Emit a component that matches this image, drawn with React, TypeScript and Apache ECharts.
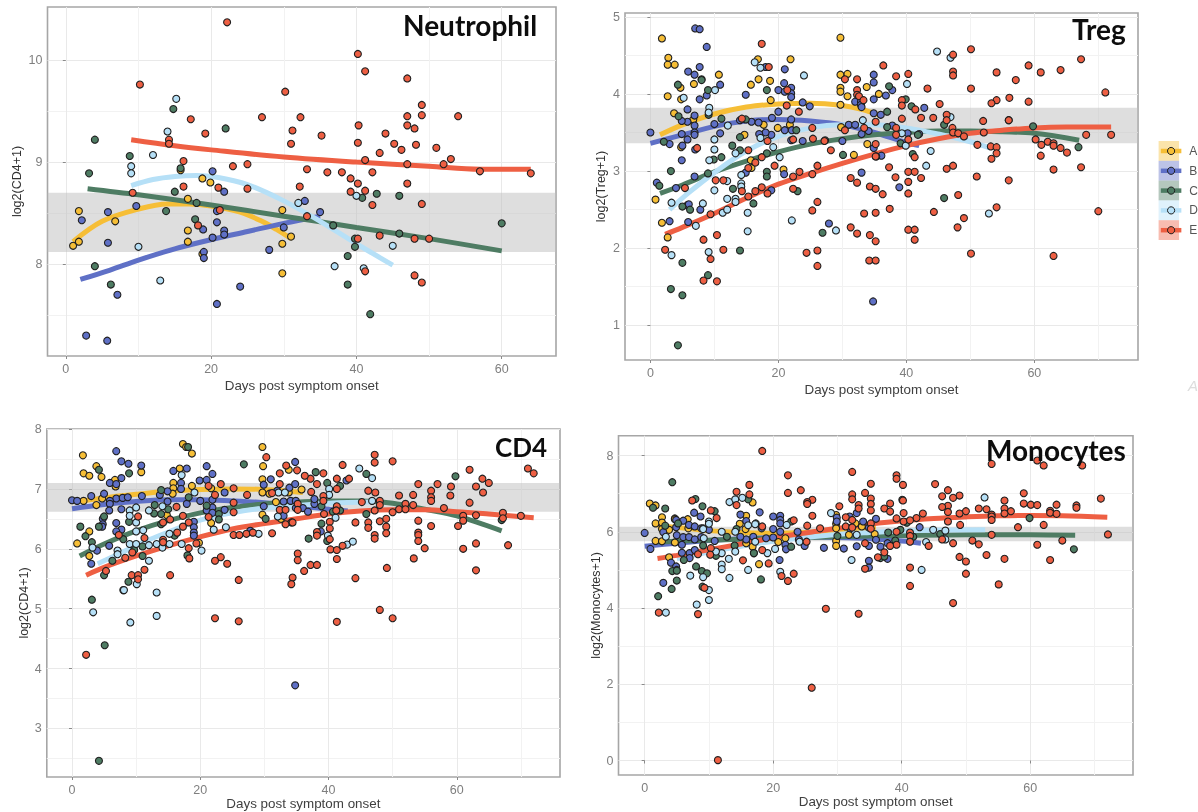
import React, { useEffect, useRef } from "react";
import * as echarts from "echarts";

type P = [number, number];

const groups = ["A", "B", "C", "D", "E"];
const colors = ["#F6BE36", "#5F70C6", "#4E7C63", "#B6E0F7", "#EE5F43"];
const xTicks = [0, 20, 40, 60];
const xMinor = [10, 30, 50, 70];

// ---- Neutrophil
const neutA: P[] = [[1.8,8.52],[1,8.18],[1.8,8.22],[6.8,8.42],[16.8,8.64],[18.8,8.84],[19.9,8.8],[15.8,8.92],[16.8,8.33],[16.8,8.22],[18.8,8.1],[29.8,8.53],[29.8,8.2],[31,8.27],[29.8,7.91]];
const neutB: P[] = [[20.2,8.91],[21.8,8.71],[9.7,8.57],[5.8,8.51],[2.2,8.43],[5.8,8.21],[20.8,8.52],[20.8,8.41],[21.8,8.33],[21.8,8.29],[18.9,8.34],[20.2,8.26],[19,8.12],[19,8.06],[28,8.14],[30,8.36],[32.9,8.62],[35,8.51],[2.8,7.3],[5.7,7.25],[7.1,7.7],[24,7.78],[20.8,7.61]];
const neutC: P[] = [[4,9.22],[3.2,8.89],[8.8,9.06],[14.8,9.52],[22,9.33],[15,8.71],[18,8.6],[13.8,8.52],[17.8,8.44],[4,7.98],[6.2,7.8],[36.8,8.38],[39.8,8.25],[39.8,8.17],[38.8,8.08],[38.8,7.8],[41.9,7.51],[40.8,8.65],[42.8,8.69],[45.9,8.67],[45.9,8.3],[60,8.4],[15.8,8.94]];
const neutD: P[] = [[15.2,9.62],[14,9.3],[12,9.07],[9,8.96],[9,8.89],[32,8.6],[40,8.67],[10,8.17],[13,7.84],[37,7.98],[41,7.96],[45,8.18]];
const neutE: P[] = [[22.2,10.37],[40.2,10.06],[41.2,9.89],[47,9.82],[10.2,9.76],[30.2,9.69],[49,9.56],[32.3,9.44],[27,9.44],[17.2,9.42],[47,9.45],[49,9.46],[54,9.45],[47,9.36],[40.3,9.36],[48,9.33],[31.2,9.31],[19.2,9.28],[44,9.28],[35.2,9.26],[14.2,9.22],[14.2,9.18],[31,9.18],[40.2,9.19],[45.2,9.18],[48.2,9.17],[46.2,9.12],[51,9.14],[43.2,9.09],[16.2,9.01],[41.2,9.02],[53,9.03],[23,8.96],[25,8.98],[47,8.98],[52,8.98],[33.2,8.93],[36,8.9],[38,8.9],[42.2,8.9],[57,8.91],[64,8.89],[39.2,8.84],[40.2,8.79],[47,8.79],[16.2,8.76],[21,8.75],[25,8.74],[32.2,8.76],[41.2,8.72],[39.2,8.71],[9.2,8.7],[42.2,8.58],[49,8.59],[21.2,8.53],[33.2,8.47],[18.2,8.38],[40.2,8.25],[43.2,8.28],[48,8.25],[50,8.25],[41.2,7.93],[48,7.89],[49,7.82]];
const neutFitA: P[] = [[1,8.22],[5,8.42],[10,8.54],[14,8.59],[17,8.59],[20,8.57],[24,8.51],[27,8.42],[29,8.34],[31,8.25]];
const neutFitB: P[] = [[2,7.85],[6,7.94],[10,8.04],[15,8.15],[20,8.24],[25,8.32],[30,8.4],[35,8.47]];
const neutFitC: P[] = [[3,8.74],[10,8.68],[20,8.58],[30,8.47],[40,8.36],[50,8.25],[60,8.13]];
const neutFitD: P[] = [[9,8.77],[12,8.83],[15,8.86],[18,8.87],[21,8.85],[25,8.78],[30,8.62],[35,8.42],[40,8.2],[45,7.99]];
const neutFitE: P[] = [[9,9.22],[15,9.16],[20,9.12],[30,9.05],[40,9.0],[50,8.96],[57,8.93],[64,8.93]];

// ---- Treg
const tregA: P[] = [[1.8,4.72],[2.8,4.47],[2.7,4.38],[3.8,4.38],[4.7,4.08],[2.7,3.97],[4.8,3.93],[3.7,3.75],[6.8,4.13],[6.7,3.67],[10.7,4.25],[16.8,4.45],[16.9,4.19],[15.7,4.12],[18.7,4.17],[18.8,3.92],[21.9,4.45],[29.7,4.73],[29.7,4.25],[30.8,4.26],[29.7,4.08],[29.7,4.03],[30.8,3.97],[29.7,3.86],[33.8,4.09],[35.7,4.0],[29.8,3.57],[17.7,3.6],[14.7,3.47],[19.9,3.56],[21.8,3.6],[20.8,3.02],[15.7,3.14],[31.8,3.21],[33.9,3.35],[0.8,2.63],[1.8,2.33],[2.7,2.14],[4.8,3.31],[15.8,3.04]];
const tregB: P[] = [[7,4.85],[7.7,4.84],[8.8,4.61],[7.7,4.35],[5.9,4.29],[6.9,4.25],[10.9,4.12],[7.7,3.93],[8.8,3.98],[18,4.35],[21,4.32],[20.9,4.14],[22,4.08],[20,4.05],[21,4.03],[22,4.01],[22,3.96],[14.9,3.99],[23.8,3.89],[24.9,3.84],[20,3.77],[22,3.67],[19,3.69],[14,3.66],[0,3.5],[5.8,3.8],[5.8,3.64],[6.9,3.72],[6.9,3.59],[6.9,3.5],[6.9,3.47],[4.9,3.65],[4.9,3.48],[5.8,3.41],[5,3.33],[3,3.35],[4.9,3.14],[7,3.28],[10.9,3.49],[10,3.61],[15.8,3.64],[16.9,3.63],[18.9,3.47],[18,3.5],[17,3.48],[21,3.53],[22.1,3.53],[22,3.4],[23.8,3.39],[30,3.39],[31,3.6],[32,3.6],[32,3.9],[32.9,3.9],[32.9,3.86],[33,3.83],[34.9,3.93],[34.9,4.25],[34.9,4.15],[34.9,3.75],[36,3.73],[36.8,3.98],[37.8,4.05],[37.8,3.59],[33,3.48],[34.1,3.52],[34.9,3.3],[36.1,3.2],[35.3,3.19],[33,2.98],[42.8,3.82],[42,3.48],[38.9,2.79],[40.2,3.49],[34.8,1.31],[27.9,2.32],[1,2.85],[4,2.78],[3,2.35],[5.9,2.34],[5.8,2.56],[6,2.57],[7.8,2.5],[6.9,2.93],[18.9,2.75],[14.9,2.98],[20.9,2.96]];
const tregC: P[] = [[4.3,4.12],[8,4.19],[8,4.18],[9,4.05],[9.1,3.73],[4.4,3.71],[11.1,3.68],[14.9,3.67],[2.1,3.38],[1.4,2.81],[3.2,3],[9,2.97],[9.9,3.15],[11.1,3.18],[12.8,3.33],[14,3.44],[14,3.27],[12.9,2.77],[18.2,4.05],[18.2,3.23],[18.2,2.99],[18.2,2.93],[16.1,2.58],[22.8,3.53],[23,2.74],[26.9,2.2],[30.1,3.21],[5,2.54],[6.2,2.5],[14,1.97],[5,1.81],[9,1.65],[3.2,1.47],[5,1.39],[4.3,0.74],[27.3,3.4],[37,3.77],[37,3.57],[37.3,4.1],[39.9,3.93],[40.8,3.84],[39.1,3.36],[41.8,3.47],[45.9,3.6],[45.9,2.65],[59.8,3.58],[66.9,3.31],[41,3.22],[56,3.66]];
const tregD: P[] = [[5.2,3.95],[10.1,4.05],[9.2,3.82],[9.1,3.76],[16.3,4.41],[17.2,4.34],[24,4.24],[40.1,4.13],[44.8,4.55],[46.9,4.47],[46.9,3.7],[12.1,3.59],[10,3.41],[10,3.28],[9.2,3.14],[13.3,3.23],[19.2,3.31],[17.2,3.43],[20.2,3.18],[14.2,2.95],[14.2,2.84],[14.2,2.8],[12,2.87],[10,2.75],[12,2.64],[13.3,2.64],[13.3,2.6],[3.3,2.59],[8.2,2.58],[7.1,2.29],[11.3,2.46],[12,2.5],[15.2,2.46],[15.2,2.22],[9.1,1.95],[3.3,1.91],[22.1,2.36],[29,2.23],[33.2,3.66],[52.9,2.45],[43.8,3.26],[43.1,3.07],[39.3,3.49],[39.9,3.33]];
const tregE: P[] = [[17.4,4.65],[18.5,4.35],[36.4,4.37],[50.1,4.58],[47.3,4.51],[67.3,4.45],[59.1,4.37],[54.1,4.28],[61,4.28],[64.1,4.31],[47.3,4.29],[47.3,4.24],[40.3,4.26],[38.4,4.23],[30.4,4.19],[32.3,4.19],[57.1,4.18],[50.1,4.07],[43.3,4.07],[32.3,4.05],[32.3,3.99],[71.1,4.02],[21.4,4.05],[32.6,3.97],[56.1,3.95],[54.1,3.92],[39.3,3.92],[59.1,3.9],[53.3,3.88],[45.2,3.87],[33.3,3.92],[21.3,3.85],[23.2,3.77],[39.3,3.85],[39.3,3.68],[46.3,3.73],[44.2,3.69],[42.3,3.69],[41.4,3.8],[46.3,3.66],[35.2,3.64],[52,3.65],[56,3.66],[14.3,3.68],[47.2,3.56],[47.3,3.5],[48.1,3.49],[49,3.45],[52.1,3.5],[68.1,3.47],[72,3.47],[38.4,3.56],[38.4,3.47],[33.4,3.56],[25.3,3.56],[30.4,3.53],[25.4,3.42],[27.2,3.39],[18.3,3.39],[22.3,3.41],[15.3,3.27],[7.3,3.3],[35.2,3.35],[40.3,3.41],[51.1,3.34],[53.2,3.32],[54.1,3.31],[60.2,3.41],[61.1,3.34],[62.1,3.38],[63,3.36],[63,3.33],[64.1,3.3],[65.1,3.24],[54.1,3.23],[61,3.2],[53.3,3.16],[28.2,3.27],[35.2,3.19],[41.3,3.18],[17.4,3.18],[16.4,3.11],[19.4,3.07],[26.1,3.07],[37.3,3.05],[47.3,3.07],[46.3,3.03],[67.3,3.05],[63,3.02],[15.3,3.04],[23.3,2.99],[25.3,2.96],[40.3,2.99],[41.3,2.99],[31.3,2.91],[42.3,2.91],[38.3,2.92],[51,2.93],[22.3,2.93],[5.4,2.78],[10.2,2.88],[11.4,2.88],[32.3,2.85],[40.3,2.86],[56,2.88],[34.3,2.8],[22.3,2.77],[35.2,2.77],[36.3,2.7],[40.3,2.71],[14.3,2.74],[16.4,2.74],[17.4,2.79],[18.3,2.71],[15.3,2.67],[48.1,2.69],[26.1,2.6],[25.3,2.49],[37.4,2.51],[54.1,2.53],[35.2,2.46],[33.4,2.45],[44.3,2.47],[70,2.48],[9.4,2.44],[49,2.39],[31.3,2.27],[48,2.27],[32.3,2.19],[34.3,2.17],[40.3,2.24],[41.3,2.24],[10.4,2.17],[8.3,2.11],[35.2,2.09],[41.3,2.11],[2.3,1.98],[11.4,1.98],[24.4,1.94],[26.1,1.97],[50.1,1.93],[63,1.9],[9.4,1.86],[34.2,1.84],[35.2,1.84],[26.1,1.77],[8.3,1.58],[10.4,1.57]];
const tregFitA: P[] = [[1.5,3.47],[5,3.6],[10,3.74],[15,3.83],[20,3.87],[25,3.88],[30,3.85],[33,3.8],[36,3.72]];
const tregFitB: P[] = [[0,3.36],[5,3.47],[10,3.58],[15,3.65],[20,3.67],[25,3.65],[30,3.6],[35,3.5],[40,3.37],[42,3.33]];
const tregFitC: P[] = [[1.5,2.71],[5,2.82],[10,2.99],[15,3.13],[20,3.25],[25,3.35],[30,3.42],[35,3.47],[40,3.5],[45,3.52],[50,3.52],[55,3.51],[60,3.49],[67,3.4]];
const tregFitD: P[] = [[3,2.5],[6,2.72],[10,2.98],[15,3.26],[20,3.45],[25,3.56],[30,3.6],[35,3.6],[40,3.56],[45,3.48],[50,3.38],[53,3.3]];
const tregFitE: P[] = [[2.3,2.18],[5,2.27],[10,2.45],[15,2.65],[20,2.83],[25,2.97],[30,3.1],[35,3.22],[40,3.33],[45,3.42],[50,3.49],[55,3.53],[60,3.56],[65,3.57],[72,3.57]];

// ---- CD4
const cd4A: P[] = [[1.7,7.56],[1.8,7.26],[2.7,7.22],[3.8,7.38],[4.6,7.2],[10.8,7.28],[6.7,7.15],[6.8,7.04],[1.8,6.8],[3.8,6.73],[4.7,6.84],[0.8,6.09],[2.7,6.29],[2.7,5.88],[17.3,7.75],[17.8,7.7],[18.7,7.59],[16.8,7.34],[15.8,7.1],[15.8,7.01],[15.7,6.92],[18.7,7.05],[14.8,6.56],[19.8,6.1],[21.7,6.43],[21.7,7.01],[29.7,7.7],[29.8,7.38],[29.7,7.16],[29.7,6.94],[29.7,6.57],[30.8,6.92],[31.8,6.78],[33.8,7.32],[33.8,6.94],[35.8,6.99],[32.6,6.5]];
const cd4B: P[] = [[6.9,7.63],[7.7,7.46],[8.8,7.42],[10.8,7.39],[7.7,7.18],[5.9,7.1],[0,6.81],[0.8,6.8],[3,6.88],[5,6.92],[6.9,6.84],[7.9,6.85],[8.7,6.86],[10.9,6.88],[6.9,7.08],[5.9,6.8],[5.9,6.75],[5.8,6.64],[7.7,6.66],[4.8,6.5],[4.8,6.41],[4.7,6.37],[6.9,6.43],[7.7,6.32],[6.9,6.29],[3.9,5.97],[5.8,6.05],[3,5.75],[13.7,6.9],[14.9,6.79],[15.8,7.3],[17.9,7.34],[17,7.1],[17,7],[17.9,6.75],[19,6.45],[19,6.36],[19,6.27],[19,6.22],[19.9,7.14],[21,7.15],[21,7.38],[21.9,7.25],[20,6.8],[21.9,6.82],[21.9,6.69],[21,6.64],[21.9,6.6],[23.8,6.65],[23.8,6.94],[27.8,6.3],[29.9,7.07],[29.9,6.71],[31,7.16],[32,6.97],[33,6.79],[33,6.55],[33.9,7.02],[34.1,6.8],[34.9,6.8],[34.8,7.45],[34.8,7.08],[34.9,6.68],[36,6.68],[36.8,6.62],[37.8,6.75],[37.8,6.83],[38.8,6.29],[42.8,7.14],[34.8,3.72],[14.9,6.96]];
const cd4C: P[] = [[26.8,7.41],[8.9,7.26],[4.2,7.32],[1.3,6.37],[2.1,6.21],[3.1,6.11],[4.2,6.37],[5,6.54],[5,5.56],[6.3,5.8],[8,6.16],[8.9,6.45],[11,6.04],[11,5.88],[8.8,5.45],[8,5.31],[3.1,5.15],[5.1,4.39],[4.2,2.46],[12.9,6.73],[12.8,6.59],[13.9,6.58],[13.9,6.41],[13.9,6.98],[15,6.66],[16,6.22],[18.1,7.7],[18.2,6.86],[18,5.89],[22.9,6.58],[22.9,6.49],[21,6.72],[30.2,6.5],[38,7.28],[39.8,7.1],[41.8,7.05],[38.9,6.71],[38.9,6.42],[39.8,6.13],[36.9,6.17],[40.7,6.62],[41.8,6.64],[45.9,7.25],[45.9,6.58],[59.8,7.21],[67,6.48],[9.7,5.98]];
const cd4D: P[] = [[9,6.64],[10,6.69],[12,6.64],[14.1,6.71],[17.1,7.23],[19.1,6.94],[32.2,6.94],[33.2,6.94],[32.1,6.54],[44.8,7.34],[46.8,7.18],[40.1,7],[40.1,6.9],[46.8,6.8],[41.1,6.52],[39.9,6.22],[42.9,6.07],[43.8,6.12],[9,6.55],[10,6.44],[10,6.29],[11.1,6.31],[7.1,5.97],[7.1,5.91],[9,6.08],[10,6.08],[12,6.06],[13.2,6.08],[14.1,6.02],[15.2,6.08],[15.2,6.25],[17.1,6.08],[20.2,5.97],[22.1,6.32],[24,6.36],[29.1,6.25],[3.2,6.02],[12,5.8],[10.1,5.41],[13.2,5.27],[8.1,5.31],[3.3,4.94],[9.1,4.77],[13.2,4.88]];
const cd4E: P[] = [[2.2,4.23],[71.1,7.34],[72,7.26],[47.2,7.57],[47.2,7.44],[50,7.46],[42.2,7.4],[62,7.32],[32.4,7.26],[30.3,7.53],[33.4,7.39],[35.1,7.31],[39.2,7.26],[37.2,7.17],[38.2,7.08],[41.3,7.17],[43.2,7.17],[36.3,7.22],[57,7.08],[54,7.08],[64,7.17],[65,7.1],[59.1,7.04],[63,7.04],[41.3,7],[39.2,6.88],[39.2,6.8],[46.2,6.97],[47.3,6.94],[56,6.97],[64.1,6.94],[51,6.89],[53.2,6.9],[56,6.86],[56,6.8],[59,6.89],[62,6.77],[52,6.75],[48,6.8],[45.2,6.78],[48,6.73],[47.2,6.64],[51,6.66],[53.2,6.73],[52,6.66],[58,6.68],[50,6.61],[25.2,7.01],[23.2,7.08],[21.3,7.05],[25.2,6.77],[37.3,6.95],[32.4,7.08],[31.2,6.93],[27.3,6.9],[22.3,6.9],[16.3,6.7],[25.2,6.61],[32.4,6.65],[33.3,6.65],[34.2,6.44],[35.2,6.75],[35.2,6.65],[39.3,6.58],[41.3,6.71],[41.2,6.64],[46.2,6.44],[46.2,6.35],[44.2,6.44],[48,6.46],[49,6.5],[54,6.47],[56,6.38],[61,6.55],[61,6.47],[63,6.56],[67.2,6.6],[67.2,6.51],[70,6.55],[60.2,6.38],[10.3,6.54],[7.3,6.23],[14.2,6.44],[15.3,6.49],[17.3,6.55],[17.3,6.37],[18.2,6.44],[21.3,6.53],[25.2,6.23],[26.1,6.23],[27.2,6.25],[28.2,6.27],[31.2,6.26],[33.3,6.41],[34.4,6.44],[38.2,6.28],[38.2,6.22],[40.2,6.45],[40.2,6.34],[40.2,6.16],[47.2,6.23],[47.2,6.17],[49,6.37],[49,6.26],[54,6.27],[54,6.23],[54,6.13],[55,6.01],[11.3,6.18],[16.4,6.27],[14.2,6.15],[14.2,6.11],[9.4,5.94],[8.3,5.85],[18.2,6.01],[19.4,6.09],[18.3,5.84],[40.3,5.99],[41.3,5.98],[42.2,6.05],[61,6],[63,6.09],[68,6.06],[23.2,5.86],[22.3,5.8],[24.2,5.75],[35.2,5.92],[35.2,5.81],[41.3,5.83],[53.3,5.84],[5.3,5.63],[11.3,5.65],[9.3,5.56],[10.3,5.56],[10.3,5.49],[15.3,5.56],[37.2,5.73],[38.2,5.73],[36.2,5.63],[49.1,5.68],[63,5.64],[34.4,5.52],[34.2,5.41],[44.2,5.51],[26,5.48],[22.3,4.84],[26,4.79],[41.3,4.78],[48,4.98],[50,4.84]];
const cd4FitA: P[] = [[1.8,6.8],[5,6.85],[10,6.91],[15,6.96],[20,6.99],[25,7.0],[30,6.99],[36,6.94]];
const cd4FitB: P[] = [[0,6.67],[5,6.74],[10,6.79],[15,6.82],[20,6.82],[25,6.8],[30,6.77],[35,6.72],[40,6.66],[43,6.63]];
const cd4FitC: P[] = [[1.2,5.88],[5,6.08],[10,6.3],[15,6.47],[20,6.6],[25,6.69],[30,6.75],[35,6.78],[40,6.8],[45,6.8],[50,6.76],[55,6.66],[60,6.55],[67,6.3]];
const cd4FitD: P[] = [[4,5.75],[8,5.95],[12,6.15],[16,6.32],[20,6.48],[25,6.6],[30,6.68],[35,6.72],[40,6.76],[47,6.78]];
const cd4FitE: P[] = [[2.2,5.56],[5,5.69],[10,5.88],[15,6.05],[20,6.2],[25,6.33],[30,6.42],[35,6.5],[40,6.58],[45,6.63],[50,6.65],[55,6.65],[60,6.62],[65,6.58],[72,6.52]];

// ---- Monocytes
const monoA: P[] = [[0.8,6.74],[1.7,6.69],[1.7,6.22],[2.7,6.38],[2.7,6.24],[2.7,6.07],[3.8,6.05],[4.7,6.35],[4.7,6.33],[6.7,6.33],[1.7,5.76],[2.7,5.75],[4.7,5.72],[3.8,5.33],[16.8,6.77],[15.8,6.42],[14.8,6.21],[15.7,6.07],[16.8,5.61],[15.8,5.7],[17.8,5.15],[20.8,5.73],[21.9,5.83],[29.8,6.44],[29.8,6.21],[29.8,6.09],[29.8,5.76],[29.8,5.63],[31.8,5.92],[32.8,6.22],[33.8,6.14],[35.8,5.94],[6.8,6.09]];
const monoB: P[] = [[0,5.97],[0.9,5.55],[7.7,6.5],[8.7,6.4],[2.9,5.99],[4.9,6.31],[6,6.29],[4.9,6.12],[5,5.91],[6,5.86],[6.9,5.86],[7.8,5.8],[8.8,5.86],[10,6.05],[6.9,6.18],[7.8,6.14],[8.8,6.09],[10.9,5.76],[5.8,5.66],[5.8,5.45],[7,5.44],[7.8,5.52],[7,5.31],[4.1,5.19],[4.9,5.09],[5,5],[2.9,4.66],[14.9,6.45],[15.8,6.28],[15.8,5.8],[14.9,5.87],[16.9,5.87],[17.9,6.51],[20,6.4],[21.1,6.42],[21.1,6.31],[21.1,6.22],[20,6.07],[20,5.85],[21.1,6],[18.9,5.83],[21.9,5.66],[22,5.54],[23.8,6],[24,5.8],[24.9,5.63],[21,5.26],[27.9,5.58],[31,5.56],[29.9,6.37],[29.9,6.27],[31.9,6.4],[32,6.09],[33,6.49],[33,5.62],[34,6.27],[34.9,6.11],[36,6.34],[36,5.79],[34.9,5.63],[34.9,5.24],[34.9,5.06],[36.7,5.61],[37.8,5.7],[37.8,5.29],[42.8,6.12],[17,5.44],[18.2,6.09]];
const monoC: P[] = [[4.3,7.3],[1.3,6.63],[3.2,6.61],[7.9,6.86],[9,6.67],[10.9,6.54],[5.2,6.22],[3.2,6.16],[9.1,6.09],[9.1,5.64],[12.8,5.87],[14,5.64],[14.3,6.07],[16.1,6.85],[17.3,6.22],[17,5.44],[8,5.09],[8.9,4.97],[9.7,4.91],[4.3,4.97],[5,4.98],[5,4.72],[4.2,4.5],[2.1,4.31],[9,4.56],[11.1,5.37],[6.1,5.26],[18.1,4.75],[22.8,5.61],[22.8,6.27],[30,5.89],[37.9,5.98],[39,5.77],[39.8,6.05],[40.8,6.24],[41.8,5.87],[36.7,5.31],[37.3,5.35],[40.1,6.84],[46,5.94],[59.9,6.36],[66.8,5.54]];
const monoD: P[] = [[13.2,6.78],[14.1,6.85],[15.2,6.89],[10,6.27],[9.1,6.07],[10,6.21],[9.2,5.83],[12,6],[14.1,6],[16.1,6.17],[17.2,6.2],[17.2,5.74],[22.1,6.18],[29,6.49],[52.9,6.9],[44.9,6.05],[46.8,6.03],[46.8,5.8],[43.8,5.73],[43.1,5],[32.2,5.26],[33,5.92],[24.1,5.74],[20.3,5.55],[19.1,5.44],[12,5.44],[12,5.14],[12,5.02],[11.1,5.48],[13.1,5.29],[14.1,5.48],[13.2,4.79],[16.1,5],[7.1,4.85],[9.1,4.81],[10,4.47],[10,4.21],[8.1,4.09],[3.3,3.88],[21.1,4.95],[3.3,5.87]];
const monoE: P[] = [[18.3,8.12],[54,7.78],[61.1,7.87],[62.1,7.74],[68.1,7.74],[32.3,7.57],[39.2,7.48],[39.2,7.39],[22.3,7.48],[40.2,7.23],[35.2,7.26],[45.2,7.25],[16.3,7.23],[24.3,7.09],[14.3,7.05],[22.3,7.02],[16.3,6.98],[34.3,7.02],[32.3,6.98],[47.2,7.09],[49,6.95],[46.3,6.93],[48,6.89],[59,7.01],[71,6.87],[32.3,6.85],[40.2,6.82],[35.2,6.87],[56,6.82],[26.1,6.84],[25.3,6.78],[25.3,6.73],[7.4,6.82],[14.3,6.7],[35.2,6.73],[38.2,6.74],[59,6.74],[60.1,6.71],[61.1,6.7],[64.1,6.71],[30.3,6.67],[33.3,6.7],[33.3,6.61],[47.2,6.68],[46.3,6.65],[67.2,6.69],[67.2,6.63],[37.3,6.61],[52,6.61],[53.2,6.59],[56,6.61],[57,6.54],[50,6.54],[10.3,6.56],[35.2,6.56],[38.2,6.53],[63.1,6.55],[63.1,6.5],[64.1,6.47],[49,6.48],[40.3,6.49],[43.3,6.48],[56,6.48],[54,6.45],[54,6.4],[54,6.31],[47.2,6.52],[47.2,6.27],[11.2,6.36],[42.3,6.36],[39.2,6.35],[40.3,6.27],[41.3,6.3],[23.2,6.3],[26.1,6.42],[25.3,6.16],[31.3,6.38],[32.3,6.31],[35.2,6.22],[58.1,6.12],[62.1,6.18],[49.1,6.18],[54,5.92],[72.1,5.93],[27.3,6.09],[18.3,6.14],[35.2,6.08],[31.3,6.14],[32.3,6.11],[41.3,5.98],[41.3,5.89],[41.3,5.74],[39.2,6],[39.2,5.66],[46.3,5.8],[48,5.7],[51,5.77],[52,5.67],[65,5.77],[61.1,5.66],[25.2,5.74],[34.3,5.7],[38.2,5.63],[44.2,5.63],[18.3,5.52],[10.3,5.57],[10.2,5.4],[8.3,5.41],[15.3,5.25],[19.3,5.17],[36.3,5.33],[37.3,5.46],[49,5.34],[50,5.22],[53.2,5.39],[56,5.29],[63.1,5.26],[41.3,5.06],[34.3,5.03],[50,4.9],[23.2,4.9],[21.3,4.84],[22.3,4.71],[41.3,4.58],[55.1,4.62],[9.3,4.53],[48,4.13],[28.2,3.98],[33.3,3.85],[2.2,3.88],[8.3,3.84],[26,1.91],[11.4,0.01]];
const monoFitA: P[] = [[2,6.15],[6,6.1],[10,6.03],[15,5.98],[20,5.96],[25,5.98],[30,6.03],[36,6.1]];
const monoFitB: P[] = [[0,5.62],[5,5.7],[10,5.77],[15,5.82],[20,5.85],[25,5.86],[30,5.85],[35,5.82],[40,5.76],[43,5.7]];
const monoFitC: P[] = [[2,5.73],[10,5.78],[20,5.83],[30,5.87],[40,5.9],[50,5.92],[60,5.92],[67,5.91]];
const monoFitD: P[] = [[5,5.3],[10,5.47],[15,5.62],[20,5.75],[25,5.85],[30,5.93],[35,5.98],[40,6.02],[45,6.04],[53,6.05]];
const monoFitE: P[] = [[2,5.3],[5,5.38],[10,5.53],[15,5.68],[20,5.84],[25,5.97],[30,6.09],[35,6.2],[40,6.29],[45,6.35],[50,6.39],[55,6.42],[60,6.43],[65,6.42],[72,6.38]];

const panels = [
  { title: "Neutrophil", yName: "log2(CD4+1)", left: 47.5, top: 7, right: 556, bottom: 356, xMin: -2.52, xMax: 67.47, yMin: 7.1, yMax: 10.52, yTicks: [8, 9, 10], yMinor: [7.5, 8.5, 9.5], band: [8.12, 8.7], pts: [neutA, neutB, neutC, neutD, neutE], fits: [neutFitA, neutFitB, neutFitC, neutFitD, neutFitE], titleX: 403, titleY: 11, titleSize: 28, nameGap: 24, xGap: 23 },
  { title: "Treg", yName: "log2(Treg+1)", left: 625, top: 13, right: 1138, bottom: 360, xMin: -3.97, xMax: 76.2, yMin: 0.55, yMax: 5.05, yTicks: [1, 2, 3, 4, 5], yMinor: [1.5, 2.5, 3.5, 4.5], band: [3.36, 3.82], pts: [tregA, tregB, tregC, tregD, tregE], fits: [tregFitA, tregFitB, tregFitC, tregFitD, tregFitE], titleX: 1072, titleY: 15, titleSize: 28, nameGap: 18, xGap: 23 },
  { title: "CD4", yName: "log2(CD4+1)", left: 46.8, top: 429, right: 560, bottom: 777, xMin: -3.93, xMax: 76.1, yMin: 2.19, yMax: 8, yTicks: [3, 4, 5, 6, 7, 8], yMinor: [2.5, 3.5, 4.5, 5.5, 6.5, 7.5], band: [6.62, 7.1], pts: [cd4A, cd4B, cd4C, cd4D, cd4E], fits: [cd4FitA, cd4FitB, cd4FitC, cd4FitD, cd4FitE], titleX: 495, titleY: 434, titleSize: 26, nameGap: 15, xGap: 19 },
  { title: "Monocytes", yName: "log2(Monocytes+1)", left: 618.5, top: 435.7, right: 1133, bottom: 775, xMin: -4.07, xMax: 76, yMin: -0.38, yMax: 8.52, yTicks: [0, 2, 4, 6, 8], yMinor: [1, 3, 5, 7], band: [5.75, 6.13], pts: [monoA, monoB, monoC, monoD, monoE], fits: [monoFitA, monoFitB, monoFitC, monoFitD, monoFitE], titleX: 986, titleY: 436, titleSize: 28, nameGap: 15, xGap: 19 },
];

const FONT = "Liberation Sans";

function buildOption() {
  const grid: any[] = [], xAxis: any[] = [], yAxis: any[] = [], series: any[] = [], title: any[] = [];
  panels.forEach((p, i) => {
    grid.push({ show: true, left: p.left, top: p.top, width: p.right - p.left, height: p.bottom - p.top, borderColor: "#a6a6a6", borderWidth: 1.6, backgroundColor: "#fff", containLabel: false });
    const common = { type: "value", gridIndex: i, axisLine: { show: false } };
    xAxis.push({
      ...common, min: p.xMin, max: p.xMax, position: "bottom",
      name: "Days post symptom onset", nameLocation: "middle", nameGap: p.xGap,
      nameTextStyle: { fontFamily: FONT, fontSize: 13.4, color: "#404040" },
      axisTick: { show: true, length: 3, lineStyle: { color: "#8a8a8a" }, customValues: xTicks },
      axisLabel: { customValues: xTicks, fontFamily: FONT, fontSize: 12.5, color: "#7f7f7f", margin: 6 },
      splitLine: { show: true, lineStyle: { color: "#e9e9e9", width: 1 } },
    });
    xAxis.push({
      ...common, min: p.xMin, max: p.xMax, position: "bottom",
      axisTick: { show: false, customValues: xMinor }, axisLabel: { show: false },
      splitLine: { show: true, lineStyle: { color: "#f2f2f2", width: 1 } },
    });
    yAxis.push({
      ...common, min: p.yMin, max: p.yMax, position: "left",
      name: p.yName, nameLocation: "middle", nameGap: p.nameGap,
      nameTextStyle: { fontFamily: FONT, fontSize: 12.5, color: "#333" },
      axisTick: { show: true, length: 3, lineStyle: { color: "#8a8a8a" }, customValues: p.yTicks },
      axisLabel: { customValues: p.yTicks, fontFamily: FONT, fontSize: 12.5, color: "#7f7f7f", margin: 5 },
      splitLine: { show: true, lineStyle: { color: "#e9e9e9", width: 1 } },
    });
    yAxis.push({
      ...common, min: p.yMin, max: p.yMax, position: "left",
      axisTick: { show: false, customValues: p.yMinor }, axisLabel: { show: false },
      splitLine: { show: true, lineStyle: { color: "#f2f2f2", width: 1 } },
    });
    const xi = i * 2, yi = i * 2;
    groups.forEach((g, k) => {
      series.push({
        type: "line", name: g, xAxisIndex: xi, yAxisIndex: yi, data: p.fits[k], smooth: 0.35,
        symbol: "circle", showSymbol: false, silent: true, z: 2, clip: true,
        lineStyle: { color: colors[k], width: 5, cap: "butt" },
        itemStyle: { color: colors[k], borderColor: "#222", borderWidth: 1 },
        ...(k === 0
          ? { markArea: { silent: true, z: 1, itemStyle: { color: "rgba(190,190,190,0.5)" }, data: [[{ yAxis: p.band[0] }, { yAxis: p.band[1] }]] } }
          : {}),
      });
    });
    groups.forEach((g, k) => {
      series.push({
        type: "scatter", name: `${p.title} ${g} samples`, xAxisIndex: xi, yAxisIndex: yi, data: p.pts[k],
        symbol: "circle", symbolSize: 7, silent: true, z: 3,
        itemStyle: { color: colors[k], borderColor: "#1f1f1f", borderWidth: 1.1, opacity: 1 },
      });
    });
    title.push({ text: p.title, left: p.titleX, top: p.titleY, padding: 0, z: 8, textStyle: { fontFamily: "Lato", fontWeight: "bold", fontSize: p.titleSize, color: "#0d0d0d" } });
  });
  const keyX = 1158.6, keyY = 141, keyH = 19.8, keyW = 20.5;
  const graphic = [
    ...groups.map((g, k) => ({ type: "rect", z: 1, silent: true, shape: { x: keyX, y: keyY + k * keyH, width: keyW, height: keyH }, style: { fill: colors[k], opacity: 0.42 } })),
    { type: "text", left: 1188, top: 378, silent: true, style: { text: "A", fill: "#dddddd", fontFamily: FONT, fontSize: 15, fontStyle: "italic" } },
  ];
  return {
    animation: false,
    backgroundColor: "#fff",
    grid, xAxis, yAxis, series, title, graphic,
    legend: {
      data: groups, orient: "vertical", left: keyX, top: keyY + 4, padding: 0,
      itemWidth: keyW, itemHeight: 9, itemGap: 7.8, selectedMode: false, z: 6,
      itemStyle: { borderColor: "#1f1f1f", borderWidth: 1 },
      lineStyle: { width: 4.5, cap: "butt" },
      textStyle: { fontFamily: FONT, fontSize: 12, color: "#555", padding: [0, 0, 0, 3] },
    },
  };
}

export default function App() {
  const ref = useRef<HTMLDivElement>(null);
  useEffect(() => {
    document.body.style.margin = "0";
    const chart = echarts.init(ref.current!, undefined, { renderer: "svg" });
    chart.setOption(buildOption() as any);
    return () => chart.dispose();
  }, []);
  return <div ref={ref} style={{ width: 1198, height: 812, filter: "blur(0.4px)" }} />;
}
